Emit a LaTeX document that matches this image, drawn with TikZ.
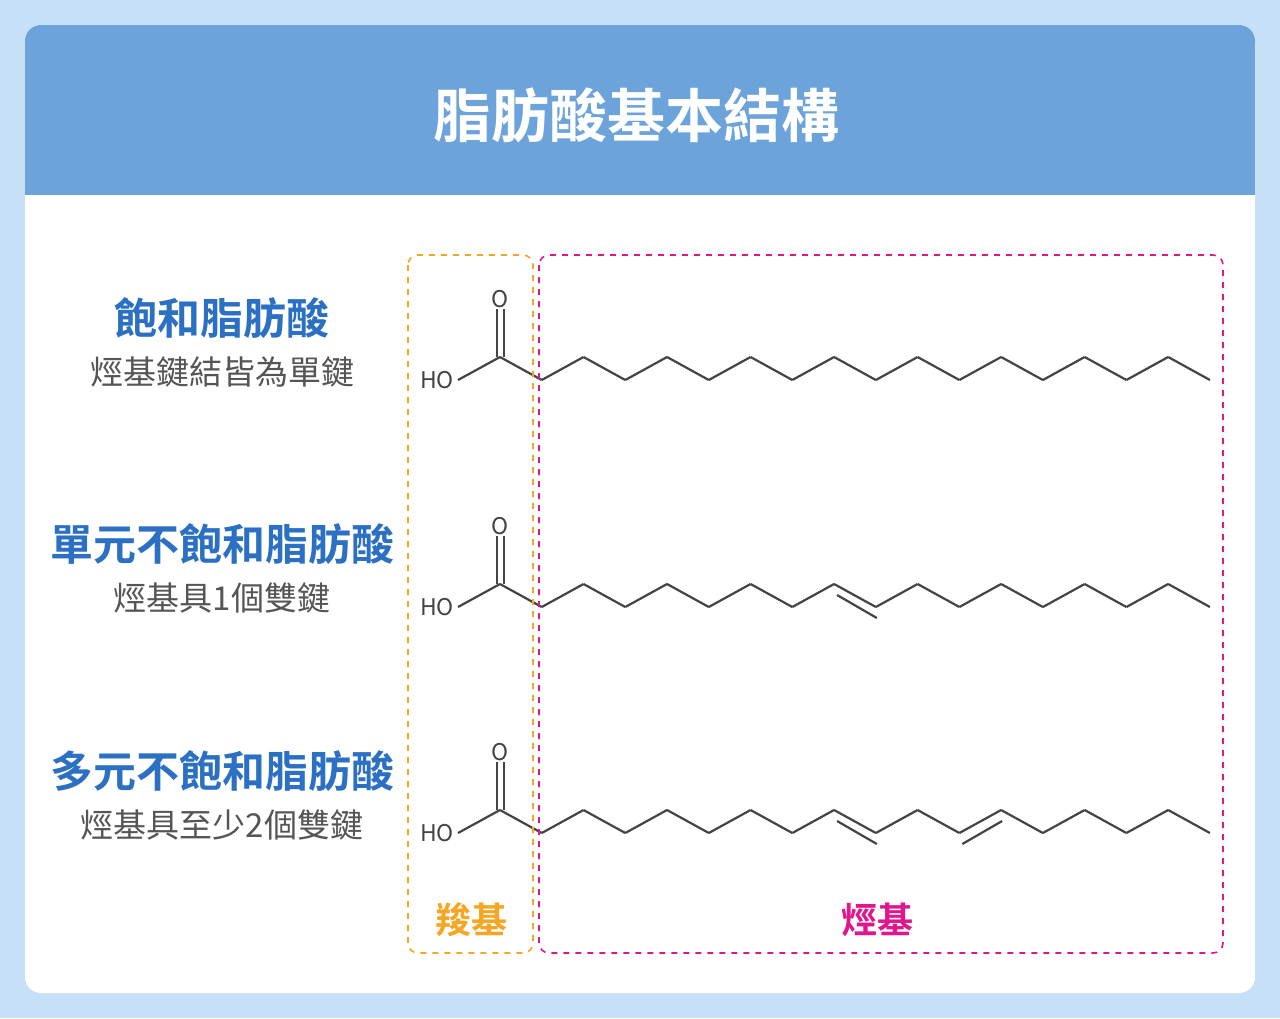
\documentclass[tikz,border=0pt]{standalone}
\usepackage{fontspec}
\setmainfont{Noto Sans CJK TC}[BoldFont={Noto Sans CJK TC Bold}]
\definecolor{bgc}{HTML}{C5E0F7}
\definecolor{hdr}{HTML}{6CA3DB}
\definecolor{ttl}{HTML}{2B70C2}
\definecolor{sub}{HTML}{555555}
\definecolor{bond}{HTML}{444444}
\definecolor{orc}{HTML}{F5A623}
\definecolor{mag}{HTML}{E0168F}

% one fatty acid: #1 = baseline y, #2 = list of double-bond indices
\newcommand{\acid}[2]{%
  \draw[chain] (437,#1) node[atom] {HO};
  \draw[chain] (458,#1) -- (500,#1-23) coordinate (c0);
  \draw[chain] (497,#1-23) -- (497,#1-71);
  \draw[chain] (504,#1-23) -- (504,#1-71);
  \node[atom] at (500,#1-81) {O};
  \foreach \i in {0,...,16}{
    \pgfmathsetmacro{\xa}{500+41.76*\i}
    \pgfmathsetmacro{\xb}{500+41.76*(\i+1)}
    \pgfmathsetmacro{\ya}{isodd(\i) ? #1 : #1-23}
    \pgfmathsetmacro{\yb}{isodd(\i) ? #1-23 : #1}
    \draw[chain] (\xa,\ya) -- (\xb,\yb);
  }
  \foreach \i in {#2}{
    \pgfmathsetmacro{\xa}{500+41.76*\i+3}
    \pgfmathsetmacro{\xb}{500+41.76*(\i+1)+1}
    \pgfmathsetmacro{\ya}{isodd(\i) ? #1+11 : #1-23+11}
    \pgfmathsetmacro{\yb}{isodd(\i) ? #1-23+11 : #1+11}
    \draw[chain] (\xa,\ya) -- (\xb,\yb);
  }
}

\begin{document}
\begin{tikzpicture}[x=0.5pt,y=-0.5pt,
  chain/.style={draw=bond, line width=1.1pt},
  atom/.style={text=bond, font=\fontsize{11.5}{13}\selectfont, inner sep=1pt},
  heading/.style={text=ttl, font=\bfseries\fontsize{21.5}{24}\selectfont},
  subhead/.style={text=sub, font=\fontsize{16.5}{19}\selectfont},
  group/.style={dashed, line width=0.8pt, rounded corners=5pt}]

  % Background and card
  \fill[bgc] (0,0) rectangle (1280,1018);
  \fill[white, rounded corners=8pt] (25,25) rectangle (1255,993);
  \fill[hdr, rounded corners=8pt] (25,25) rectangle (1255,60);
  \fill[hdr] (25,45) rectangle (1255,195);
  \node[text=white, font=\bfseries\fontsize{29}{32}\selectfont] (title) at (636,115) {脂肪酸基本結構};

  % Labels
  \node[heading] (sat) at (222,318) {飽和脂肪酸};
  \node[subhead] (satsub) at (222,372) {烴基鍵結皆為單鍵};
  \node[heading] (mono) at (222,544) {單元不飽和脂肪酸};
  \node[subhead] (monosub) at (222,598) {烴基具1個雙鍵};
  \node[heading] (poly) at (222,771) {多元不飽和脂肪酸};
  \node[subhead] (polysub) at (222,825) {烴基具至少2個雙鍵};

  % Molecules
  \acid{380}{}
  \acid{607}{8}
  \acid{833}{8,11}

  % Groups
  \draw[group, draw=orc] (408,255) rectangle (533,953);
  \draw[group, draw=mag] (539,255) rectangle (1223,953);
  \node[text=orc, font=\bfseries\fontsize{18}{20}\selectfont] (carboxyl) at (471,920) {羧基};
  \node[text=mag, font=\bfseries\fontsize{18}{20}\selectfont] (alkyl) at (877,920) {烴基};
\end{tikzpicture}
\end{document}
